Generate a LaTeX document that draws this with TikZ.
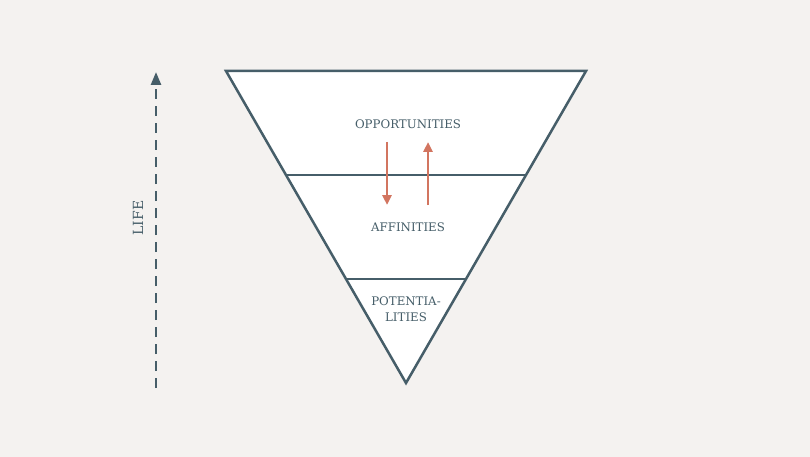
\documentclass[tikz,border=0pt]{standalone}
\usepackage{fontspec}
\setmainfont{DejaVu Serif}
\usetikzlibrary{arrows.meta}
\definecolor{bg}{HTML}{F4F2F0}
\definecolor{slate}{HTML}{465E69}
\definecolor{rust}{HTML}{D27560}
\begin{document}
\begin{tikzpicture}[x=1pt,y=-1pt,
  lbl/.style={text=slate,font=\fontsize{11.8}{16}\selectfont,align=center},
  edge/.style={draw=slate,line width=2.5pt,line join=miter}]
\fill[bg] (0,0) rectangle (810,457);
\useasboundingbox (0,0) rectangle (810,457);
\filldraw[edge,fill=white] (226,71) -- (586,71) -- (406,383) -- cycle;
\coordinate (l1) at (286.5,175); \coordinate (r1) at (525.5,175);
\coordinate (l2) at (346.5,279); \coordinate (r2) at (465.5,279);
\draw[edge] (l1) -- (r1);
\draw[edge] (l2) -- (r2);
\node[lbl] (opp) at (408,124) {OPPORTUNITIES};
\node[lbl] (aff) at (408,227) {AFFINITIES};
\node[lbl] (pot) at (406,309) {POTENTIA-\\LITIES};
\coordinate (d1) at (387,142); \coordinate (d2) at (387,205);
\coordinate (u1) at (428,205); \coordinate (u2) at (428,142);
\draw[rust,line width=2.5pt,-{Triangle[length=10pt,width=9pt]}] (d1) -- (d2);
\draw[rust,line width=2.5pt,-{Triangle[length=10pt,width=9pt]}] (u1) -- (u2);
\coordinate (la) at (156,388); \coordinate (lb) at (156,72);
\draw[slate,line width=2.5pt,dash pattern=on 10pt off 7pt,-{Triangle[length=13pt,width=10pt]}] (la) -- (lb);
\node[lbl,rotate=90,font=\fontsize{14}{16}\selectfont] (life) at (138,218) {LIFE};
\end{tikzpicture}
\end{document}
